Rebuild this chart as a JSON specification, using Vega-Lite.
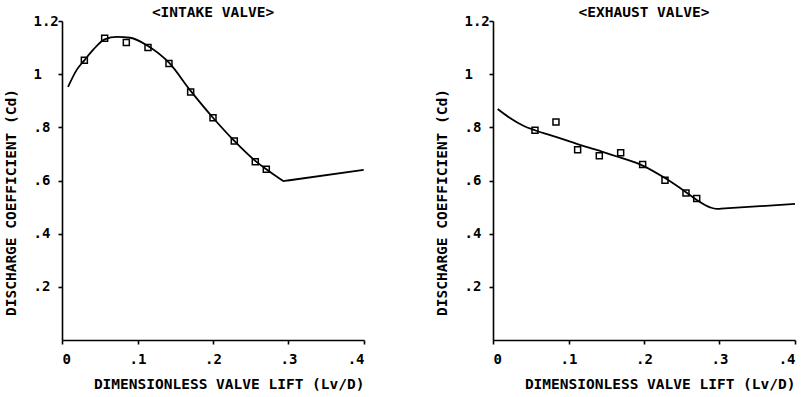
{
  "$schema": "https://vega.github.io/schema/vega-lite/v6.json",
  "background": "white",
  "padding": {"left": 3, "top": 4, "right": 5, "bottom": 5},
  "spacing": 66,
  "config": {
    "font": "DejaVu Sans Mono",
    "view": {"stroke": null},
    "axis": {
      "grid": false,
      "domainColor": "black",
      "domainWidth": 1.6,
      "tickColor": "black",
      "tickWidth": 1.6,
      "tickSize": 4,
      "labelColor": "black",
      "labelFont": "DejaVu Sans Mono",
      "labelFontSize": 14,
      "labelFontWeight": "bold",
      "titleColor": "black",
      "titleFont": "DejaVu Sans Mono",
      "titleFontSize": 14.5,
      "titleFontWeight": "bold"
    },
    "axisX": {
      "labelPadding": 8,
      "labelBaseline": "top",
      "titleAnchor": "end",
      "titleAlign": "right",
      "titleX": 302,
      "titleY": 44,
      "titleBaseline": "middle"
    },
    "axisY": {
      "labelAlign": "left",
      "labelPadding": 25,
      "labelBaseline": "middle",
      "titleX": -51,
      "titleY": 181,
      "titleAlign": "center",
      "titleBaseline": "middle",
      "titleAngle": -90
    },
    "title": {
      "font": "DejaVu Sans Mono",
      "fontSize": 14.5,
      "fontWeight": "bold",
      "color": "black",
      "frame": "group",
      "anchor": "middle",
      "baseline": "alphabetic",
      "offset": -6
    }
  },
  "datasets": {
    "intake_curve": [
      {"x": 0.008, "cd": 0.952},
      {"x": 0.0199, "cd": 1.018},
      {"x": 0.0296, "cd": 1.052},
      {"x": 0.042, "cd": 1.094},
      {"x": 0.0565, "cd": 1.131},
      {"x": 0.0728, "cd": 1.14},
      {"x": 0.0905, "cd": 1.137},
      {"x": 0.1139, "cd": 1.106},
      {"x": 0.1417, "cd": 1.043},
      {"x": 0.1704, "cd": 0.937},
      {"x": 0.2, "cd": 0.836},
      {"x": 0.2282, "cd": 0.749},
      {"x": 0.256, "cd": 0.674},
      {"x": 0.2706, "cd": 0.642},
      {"x": 0.289, "cd": 0.606},
      {"x": 0.2936, "cd": 0.598},
      {"x": 0.299, "cd": 0.6},
      {"x": 0.3996, "cd": 0.64}
    ],
    "intake_pts": [
      {"x": 0.0296, "cd": 1.052},
      {"x": 0.0565, "cd": 1.135},
      {"x": 0.0852, "cd": 1.119},
      {"x": 0.1139, "cd": 1.1},
      {"x": 0.1417, "cd": 1.04},
      {"x": 0.1704, "cd": 0.933},
      {"x": 0.2, "cd": 0.836},
      {"x": 0.2282, "cd": 0.749},
      {"x": 0.256, "cd": 0.671},
      {"x": 0.2706, "cd": 0.642}
    ],
    "exhaust_curve": [
      {"x": 0.0062, "cd": 0.869},
      {"x": 0.0225, "cd": 0.835},
      {"x": 0.0402, "cd": 0.806},
      {"x": 0.0556, "cd": 0.789},
      {"x": 0.0843, "cd": 0.763},
      {"x": 0.1121, "cd": 0.737},
      {"x": 0.1408, "cd": 0.712},
      {"x": 0.1691, "cd": 0.686},
      {"x": 0.1982, "cd": 0.656},
      {"x": 0.2278, "cd": 0.609},
      {"x": 0.2556, "cd": 0.556},
      {"x": 0.2698, "cd": 0.527},
      {"x": 0.2874, "cd": 0.499},
      {"x": 0.2962, "cd": 0.493},
      {"x": 0.302, "cd": 0.494},
      {"x": 0.4, "cd": 0.512}
    ],
    "exhaust_pts": [
      {"x": 0.0556, "cd": 0.789},
      {"x": 0.0834, "cd": 0.82},
      {"x": 0.1121, "cd": 0.716},
      {"x": 0.1408, "cd": 0.693},
      {"x": 0.1691, "cd": 0.704},
      {"x": 0.1982, "cd": 0.66},
      {"x": 0.2278, "cd": 0.601},
      {"x": 0.2556, "cd": 0.553},
      {"x": 0.2698, "cd": 0.532}
    ]
  },
  "hconcat": [
    {
      "width": 302,
      "height": 319,
      "title": "<INTAKE VALVE>",
      "layer": [
        {
          "data": {"name": "intake_curve"},
          "mark": {"type": "line", "color": "black", "strokeWidth": 1.8, "interpolate": "monotone"},
          "encoding": {
            "x": {"field": "x", "type": "quantitative", "scale": {"domain": [0, 0.4], "nice": false},
              "axis": {"values": [0, 0.1, 0.2, 0.3, 0.4], "labelExpr": "datum.value == 0 ? '0' : '.' + round(datum.value * 10)", "title": "DIMENSIONLESS VALVE LIFT (Lv/D)"}},
            "y": {"field": "cd", "type": "quantitative", "scale": {"domain": [0, 1.2], "nice": false},
              "axis": {"values": [0.2, 0.4, 0.6, 0.8, 1, 1.2], "labelExpr": "datum.value < 1 ? '.' + round(datum.value * 10) : datum.value == 1 ? '1' : '1.2'", "title": "DISCHARGE COEFFICIENT (Cd)"}}
          }
        },
        {
          "data": {"name": "intake_pts"},
          "mark": {"type": "point", "shape": "square", "filled": false, "color": "black", "size": 36, "strokeWidth": 1.5, "opacity": 1},
          "encoding": {
            "x": {"field": "x", "type": "quantitative"},
            "y": {"field": "cd", "type": "quantitative"}
          }
        }
      ]
    },
    {
      "width": 302,
      "height": 319,
      "title": "<EXHAUST VALVE>",
      "layer": [
        {
          "data": {"name": "exhaust_curve"},
          "mark": {"type": "line", "color": "black", "strokeWidth": 1.8, "interpolate": "monotone"},
          "encoding": {
            "x": {"field": "x", "type": "quantitative", "scale": {"domain": [0, 0.4], "nice": false},
              "axis": {"values": [0, 0.1, 0.2, 0.3, 0.4], "labelExpr": "datum.value == 0 ? '0' : '.' + round(datum.value * 10)", "title": "DIMENSIONLESS VALVE LIFT (Lv/D)"}},
            "y": {"field": "cd", "type": "quantitative", "scale": {"domain": [0, 1.2], "nice": false},
              "axis": {"values": [0.2, 0.4, 0.6, 0.8, 1, 1.2], "labelExpr": "datum.value < 1 ? '.' + round(datum.value * 10) : datum.value == 1 ? '1' : '1.2'", "title": "DISCHARGE COEFFICIENT (Cd)"}}
          }
        },
        {
          "data": {"name": "exhaust_pts"},
          "mark": {"type": "point", "shape": "square", "filled": false, "color": "black", "size": 36, "strokeWidth": 1.5, "opacity": 1},
          "encoding": {
            "x": {"field": "x", "type": "quantitative"},
            "y": {"field": "cd", "type": "quantitative"}
          }
        }
      ]
    }
  ]
}
